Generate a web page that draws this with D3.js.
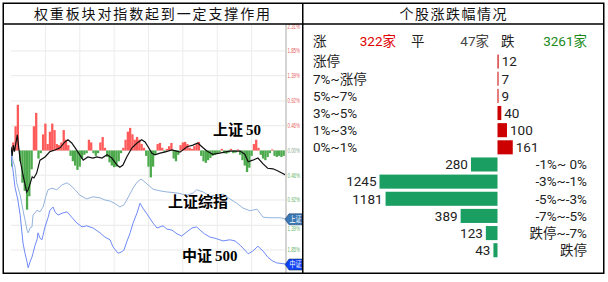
<!DOCTYPE html>
<html><head><meta charset="utf-8">
<script src="https://cdn.jsdelivr.net/npm/d3@7"></script>
<style>html,body{margin:0;padding:0;background:#fff;}svg{display:block;}</style>
</head><body>
<svg id="c" width="608" height="282"></svg>
<script>
// ---------- data ----------
const leftTitle = "权重板块对指数起到一定支撑作用";
const rightTitle = "个股涨跌幅情况";
const axisTicks = [2.31, 1.85, 1.39, 0.92, 0.46, 0, -0.46, -0.92, -1.39, -1.85];
const gridTicks = [1.85, 1.39, 0.92, 0.46, 0, -0.46, -0.92, -1.39, -1.85];
const barMinutes = d3.range(0, 241, 2);
const barValues = [
 -0.3,0.15,0.45,0.85,-0.2,-0.6,-0.75,-1.1,-0.85,-0.35,
 0.45,0.7,-0.15,-0.05,0.3,0.5,0.12,0.35,0.5,0.38,
 0.12,0.1,0.15,0.38,0.2,0.1,-0.1,-0.2,-0.28,-0.36,
 -0.3,-0.15,-0.08,-0.05,0.2,0.15,-0.05,-0.1,-0.05,0.15,
 0.25,0.05,-0.12,-0.22,-0.28,-0.31,-0.3,-0.2,-0.05,0.05,
 0.2,0.35,0.42,0.3,0.2,0.25,0.2,0.12,0.05,-0.1,
 -0.3,-0.5,-0.3,-0.08,0.12,0.14,0.05,-0.03,0.03,0.08,
 0.14,-0.15,-0.2,-0.08,0.1,0.15,0.16,0.12,0.05,0.03,
 0.08,0.12,0.16,-0.1,-0.2,-0.23,-0.18,-0.14,-0.1,-0.08,
 -0.05,-0.04,0.03,-0.05,-0.06,-0.04,0.03,-0.05,-0.04,0.02,
 -0.08,-0.18,-0.28,-0.4,-0.32,-0.1,0.12,0.2,0.05,-0.08,
 -0.15,-0.18,-0.12,-0.05,0.02,-0.1,-0.12,-0.1,-0.12,-0.1,
 -0.05
];
// [minute, % change]
const sz50 = [[0,0.07],[1,-0.1],[2,0.1],[3,-0.02],[5.5,0.29],[8,-0.18],[10.5,-0.46],[13.7,-0.77],[15,-0.73],[18.5,-0.49],[20,-0.51],[22.4,-0.42],[25.3,-0.18],[29.7,-0.12],[34,-0.02],[38.4,0.01],[42.8,0.05],[47,0.16],[49.7,0.2],[53,0.14],[56,0.05],[60,-0.08],[63,-0.18],[67,-0.12],[71.6,-0.14],[75,-0.12],[79.4,-0.14],[83.8,-0.08],[88,-0.14],[92.5,-0.27],[95,-0.31],[97.7,-0.27],[101,-0.12],[105.6,0.05],[110,0.14],[114,0.2],[117,0.16],[119.6,0.07],[123,-0.05],[125.7,-0.08],[130,-0.05],[134,-0.03],[140.5,0.01],[147.5,-0.03],[153.6,0.07],[158.8,0.1],[163,0.14],[167.6,0.05],[171,-0.01],[176,-0.07],[182,-0.05],[191,-0.01],[200,-0.01],[204,-0.07],[207,-0.21],[211,-0.18],[215.5,-0.14],[220,-0.25],[224,-0.33],[228.6,-0.34],[233,-0.38],[240,-0.46]];
const szzs = [[0,0.01],[1.7,-0.18],[3.5,-0.31],[5,-0.6],[8,-0.83],[10.5,-1.11],[14,-1.48],[15,-1.53],[16.6,-1.44],[18.3,-1.42],[19.2,-1.2],[21,-1.16],[22.7,-1.11],[25.3,-1.14],[28,-1.05],[30.5,-0.85],[32.3,-0.73],[35.8,-0.7],[40,-0.73],[44.5,-0.64],[49,-0.6],[51.5,-0.64],[56,-0.73],[60,-0.83],[66,-0.9],[71.6,-0.86],[77.7,-0.88],[82,-0.92],[86.4,-0.94],[91,-0.99],[95,-1.05],[98.6,-1.01],[101,-0.92],[106.5,-0.7],[110,-0.59],[113.5,-0.53],[116,-0.57],[119.6,-0.64],[124,-0.72],[130,-0.75],[136,-0.77],[145,-0.79],[153.6,-0.83],[159,-0.79],[162,-0.73],[167.6,-0.77],[173.7,-0.85],[180,-0.83],[185,-0.81],[191,-0.9],[197,-0.98],[202.5,-1.07],[208.6,-1.12],[214.7,-1.09],[220,-1.24],[226,-1.25],[234.8,-1.25],[240,-1.27]];
const zz500 = [[0,-0.05],[1.7,-0.36],[3.5,-0.68],[6,-0.92],[8,-1.2],[10.5,-1.72],[12,-1.89],[14,-2.07],[15,-2.18],[16.6,-2.07],[18.3,-1.98],[19.2,-1.91],[21,-1.76],[22.7,-1.66],[23.6,-1.53],[25.3,-1.63],[27,-1.66],[29.7,-1.42],[32.3,-1.25],[34,-1.11],[36.7,-1.05],[38.4,-1.14],[41,-1.2],[45.4,-1.16],[49,-1.14],[53,-1.24],[57.6,-1.35],[62,-1.42],[66,-1.4],[71.6,-1.44],[77.7,-1.53],[82,-1.61],[86.4,-1.66],[89,-1.79],[93.4,-1.91],[96,-1.89],[98.6,-1.85],[101,-1.7],[104,-1.53],[106.5,-1.35],[110,-1.16],[112.6,-0.98],[115,-1.07],[118.7,-1.18],[124,-1.35],[127.4,-1.44],[132.7,-1.4],[136,-1.46],[140.5,-1.48],[145,-1.55],[149,-1.59],[153.6,-1.51],[158,-1.44],[162,-1.42],[165,-1.48],[169,-1.55],[173.7,-1.61],[178,-1.63],[185,-1.68],[191,-1.66],[195.5,-1.68],[200,-1.76],[204,-1.85],[207,-1.92],[211,-1.87],[215.5,-1.78],[220,-1.87],[224,-1.98],[228,-2.05],[232,-2.09],[240,-2.11]];
const seriesLabels = ["上证 50", "上证综指", "中证 500"];
const tagLabels = ["上证", "中证"];
const summaryLabels = ["涨", "平", "跌"];
const summaryCounts = [322, 47, 3261];
const upCats = ["涨停", "7%~涨停", "5%~7%", "3%~5%", "1%~3%", "0%~1%"];
const upVals = [12, 7, 9, 40, 100, 161];
const downCats = ["-1%~ 0%", "-3%~-1%", "-5%~-3%", "-7%~-5%", "跌停~-7%", "跌停"];
const downVals = [280, 1245, 1181, 389, 123, 43];

// ---------- drawing ----------
const svg = d3.select("#c");
const CJK = "'Noto Sans CJK SC','Microsoft YaHei',sans-serif";
const RF = "Roboto,'Noto Sans CJK SC',sans-serif";
const RFS = 13.5;

// left chart scales
const x = d3.scaleLinear().domain([0, 240]).range([11, 286]);
const y = d3.scaleLinear().domain([-2.31, 2.31]).range([150.5 + 2.31 * 53.8, 150.5 - 2.31 * 53.8]);

const defs = svg.append("defs");
defs.append("clipPath").attr("id", "plotclip").append("rect")
  .attr("x", 11).attr("y", 25).attr("width", 275).attr("height", 248);
defs.append("clipPath").attr("id", "tagclip").append("rect")
  .attr("x", 280).attr("y", 25).attr("width", 22).attr("height", 248);

const L = svg.append("g");
// grid
L.selectAll("line.hg").data(gridTicks).join("line")
  .attr("x1", 11).attr("x2", 286).attr("y1", d => y(d)).attr("y2", d => y(d))
  .attr("stroke", "#e9e9e9").attr("stroke-width", 1);
L.selectAll("line.vg").data(d3.range(1, 8)).join("line")
  .attr("x1", d => x(d * 30)).attr("x2", d => x(d * 30)).attr("y1", 25).attr("y2", 273)
  .attr("stroke", "#ececec").attr("stroke-width", 1);

const P = L.append("g").attr("clip-path", "url(#plotclip)");
// bars
const bw = x(2) - x(0);
P.selectAll("rect.b").data(barValues).join("rect")
  .attr("x", (d, i) => x(barMinutes[i]) - bw / 2)
  .attr("width", bw)
  .attr("y", d => d >= 0 ? y(d) : y(0))
  .attr("height", d => Math.abs(y(d) - y(0)))
  .attr("fill", d => d >= 0 ? "#ff5a5a" : "#4caa4c");

const line = d3.line().x(d => x(d[0])).y(d => y(d[1]));
P.append("path").datum(szzs).attr("d", line).attr("fill", "none").attr("stroke", "#94b4dc").attr("stroke-width", 1);
P.append("path").datum(zz500).attr("d", line).attr("fill", "none").attr("stroke", "#6f8af7").attr("stroke-width", 1);
P.append("path").datum(sz50).attr("d", line).attr("fill", "none").attr("stroke", "#111").attr("stroke-width", 1.2);

// right axis line
L.append("line").attr("x1", 286).attr("x2", 286).attr("y1", 24).attr("y2", 273)
  .attr("stroke", "#d4d4d4").attr("stroke-width", 2);
// axis labels
L.selectAll("text.ax").data(axisTicks).join("text")
  .attr("x", 287.5).attr("y", d => y(d) + (d === -1.39 ? 5.8 : 2.4))
  .attr("font-family", "Arial, 'Liberation Sans', sans-serif").attr("font-size", 7)
  .attr("textLength", 12.5).attr("lengthAdjust", "spacingAndGlyphs")
  .attr("fill", d => d > 0 ? "#e66060" : (d === 0 ? "#8aa88a" : "#6bb46b"))
  .text(d => Math.abs(d).toFixed(2) + "%");

// tags
const T = L.append("g").attr("clip-path", "url(#tagclip)");
const tagData = [{t: tagLabels[0], v: szzs[szzs.length - 1][1], c: "#3a77b3"}, {t: tagLabels[1], v: zz500[zz500.length - 1][1], c: "#0f40f5"}];
tagData.forEach(td => {
  const cy = y(td.v) + 0.5;
  T.append("polygon")
    .attr("points", `285,${cy} 289,${cy - 5.5} 302,${cy - 5.5} 302,${cy + 5.5} 289,${cy + 5.5}`)
    .attr("fill", td.c).attr("stroke", "#1d3f6e").attr("stroke-width", 0.6);
  T.append("text").attr("x", 289.5).attr("y", cy + 2.9).attr("font-family", CJK)
    .attr("font-size", 8.5).attr("textLength", 12).attr("lengthAdjust", "spacingAndGlyphs")
    .attr("fill", "#fff").text(td.t);
});

// series labels
function serLabel(txt, lx, ly) {
  const parts = txt.split(" ");
  const t = L.append("text").attr("x", lx).attr("y", ly).attr("font-weight", "bold").attr("font-size", 15).attr("fill", "#000");
  t.append("tspan").attr("font-family", CJK).text(parts[0]);
  if (parts[1]) t.append("tspan").attr("font-family", "'Liberation Serif','Times New Roman',serif").attr("dx", 3).text(parts[1]);
}
serLabel(seriesLabels[0], 213, 135);
serLabel(seriesLabels[1], 168, 207);
serLabel(seriesLabels[2], 182, 261);

// ---------- right panel ----------
const R = svg.append("g");
const rows = upCats.map((c, i) => ({c, v: upVals[i], up: true})).concat(downCats.map((c, i) => ({c, v: downVals[i], up: false})));
const band = d3.scaleBand().domain(d3.range(rows.length)).range([53, 53 + 12 * 17.15]).paddingInner(0.18).paddingOuter(0.09);
const bx = d3.scaleLinear().domain([0, 1245]).range([0, 118]);
const cx0 = 497.5;

R.selectAll("rect.r").data(rows).join("rect")
  .attr("x", d => d.up ? cx0 : cx0 - bx(d.v))
  .attr("y", (d, i) => band(i))
  .attr("width", d => Math.max(1, bx(d.v)))
  .attr("height", band.bandwidth())
  .attr("fill", d => d.up ? "#cc0000" : "#1a9e62");

R.selectAll("text.v").data(rows).join("text")
  .attr("x", d => d.up ? cx0 + Math.max(1, bx(d.v)) + 3 : cx0 - bx(d.v) - 3)
  .attr("y", (d, i) => band(i) + band.bandwidth() / 2)
  .attr("dy", "0.36em")
  .attr("text-anchor", d => d.up ? "start" : "end")
  .attr("font-family", RF).attr("font-size", RFS).attr("fill", "#222")
  .text(d => d.v);

R.selectAll("text.c").data(rows).join("text")
  .attr("x", d => d.up ? 313 : 587)
  .attr("y", (d, i) => band(i) + band.bandwidth() / 2)
  .attr("dy", "0.36em")
  .attr("text-anchor", d => d.up ? "start" : "end")
  .attr("font-family", RF).attr("font-size", RFS).attr("fill", "#222")
  .text(d => d.c);

// summary line
const sumY = 41.5;
const sumLabelX = [313, 411, 501];
const sumCountX = [396, 489, 587];
const sumColors = ["#e00000", "#444", "#1a8a1a"];
summaryLabels.forEach((s, i) => {
  R.append("text").attr("x", sumLabelX[i]).attr("y", sumY).attr("dy", "0.36em")
    .attr("font-family", RF).attr("font-size", RFS).attr("fill", "#222").text(s);
  R.append("text").attr("x", sumCountX[i]).attr("y", sumY).attr("dy", "0.36em").attr("text-anchor", "end")
    .attr("font-family", RF).attr("font-size", RFS).attr("fill", sumColors[i]).text(summaryCounts[i] + "家");
});

// titles
svg.append("text").attr("x", 152).attr("y", 14).attr("dy", "0.36em").attr("text-anchor", "middle")
  .attr("font-family", CJK).attr("font-size", 14).attr("fill", "#111")
  .attr("textLength", 236).attr("lengthAdjust", "spacing").text(leftTitle);
svg.append("text").attr("x", 453).attr("y", 14).attr("dy", "0.36em").attr("text-anchor", "middle")
  .attr("font-family", CJK).attr("font-size", 14).attr("fill", "#111")
  .attr("textLength", 107).attr("lengthAdjust", "spacing").text(rightTitle);

// borders
const B = svg.append("g").attr("stroke", "#000").attr("stroke-width", 1.5).attr("fill", "none");
B.append("rect").attr("x", 3.25).attr("y", 3.25).attr("width", 600.5).attr("height", 270);
B.append("line").attr("x1", 302.75).attr("x2", 302.75).attr("y1", 3).attr("y2", 274);
B.append("line").attr("x1", 3).attr("x2", 604).attr("y1", 24).attr("y2", 24);
</script>
</body></html>
